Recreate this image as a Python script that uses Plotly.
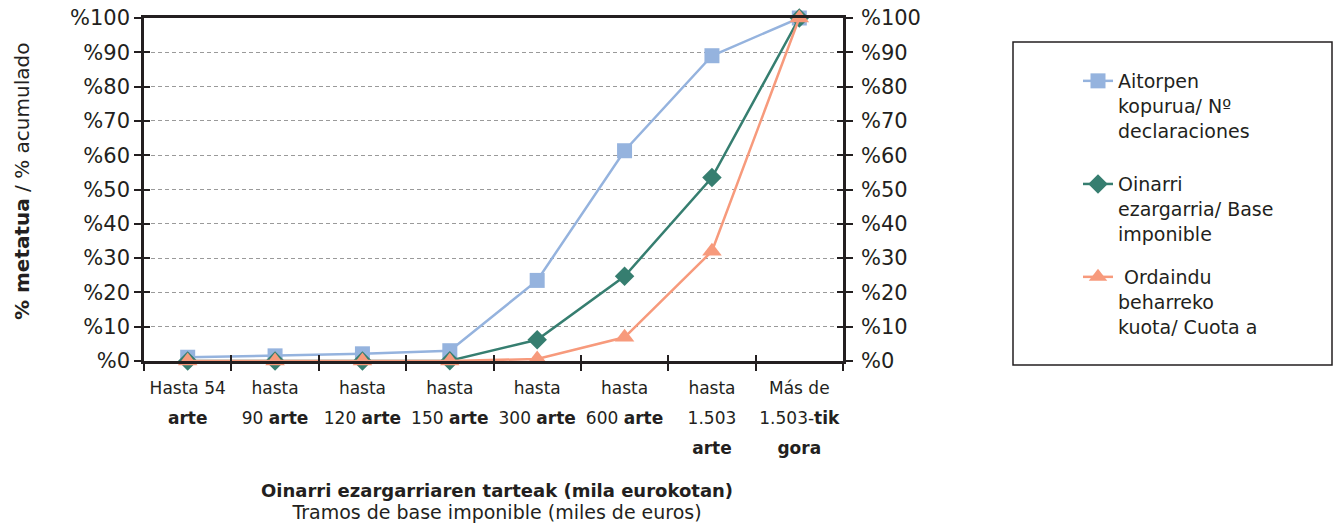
import plotly.graph_objects as go

categories = [
    "Hasta 54<br><b>arte</b>",
    "hasta<br>90 <b>arte</b>",
    "hasta<br>120 <b>arte</b>",
    "hasta<br>150 <b>arte</b>",
    "hasta<br>300 <b>arte</b>",
    "hasta<br>600 <b>arte</b>",
    "hasta<br>1.503<br><b>arte</b>",
    "Más de<br>1.503-<b>tik</b><br><b>gora</b>",
]
aitorpen = [1.1, 1.5, 2.1, 3.0, 23.5, 61.3, 89.0, 100.0]
oinarri = [0.0, 0.0, 0.0, 0.1, 6.2, 24.7, 53.5, 100.0]
kuota = [0.0, 0.0, 0.0, 0.0, 0.6, 6.9, 32.0, 100.0]

series_names = [
    "Aitorpen<br>kopurua/ Nº<br>declaraciones",
    "Oinarri<br>ezargarria/ Base<br>imponible",
    " Ordaindu<br>beharreko<br>kuota/ Cuota a",
]
y_ticks = [0, 10, 20, 30, 40, 50, 60, 70, 80, 90, 100]
y_ticklabels = ["%" + str(v) for v in y_ticks]

FONT = "DejaVu Sans"
DARK = "#231f20"

# page-pixel plot area: x 144..843, y 18..361
X0, X1, Y0, Y1 = 144, 843, 18, 361
PW, PH = X1 - X0, Y1 - Y0
FW, FH = 1334, 528
def px(x):
    return (x - X0) / PW
def py(y):
    return (Y1 - y) / PH

SP = "<span style='font-size:17px'>"
cat_labels = [SP + c.replace("<br>", "</span><br>" + SP) + "</span>" for c in categories]

fig = go.Figure()
styles = [
    dict(color="#95b3de", symbol="square", size=15),
    dict(color="#367e70", symbol="diamond", size=15),
    dict(color="#f79a7c", symbol="triangle-up", size=17),
]
legends = ["legend", "legend", "legend2"]
for name, vals, st, lg in zip(series_names, [aitorpen, oinarri, kuota], styles, legends):
    fig.add_trace(go.Scatter(
        x=cat_labels, y=vals, name=name, mode="lines+markers",
        line=dict(color=st["color"], width=2.5),
        marker=dict(color=st["color"], symbol=st["symbol"], size=st["size"]),
        cliponaxis=False, legendgroup=name, legend=lg,
    ))
# invisible helper traces for the extra axes (right labels, crossing ticks)
for xa, ya in [("x", "y2"), ("x", "y3"), ("x", "y4"), ("x2", "y")]:
    fig.add_trace(go.Scatter(x=[cat_labels[0]], y=[0], xaxis=xa, yaxis=ya, showlegend=False,
                             mode="markers", marker=dict(opacity=0), hoverinfo="skip"))

tick_common = dict(tickcolor=DARK, tickwidth=2)
fig.update_layout(
    width=FW, height=FH,
    margin=dict(l=X0, r=FW - X1, t=Y0, b=FH - Y1, autoexpand=False),
    plot_bgcolor="white", paper_bgcolor="white",
    font=dict(family=FONT, color=DARK, size=19),
    xaxis=dict(
        type="category", range=[-0.5, 7.5], tickson="boundaries",
        ticks="outside", ticklen=7, **tick_common,
        showline=True, linecolor=DARK, linewidth=2.5, mirror=True,
        showgrid=False, tickfont=dict(size=23, family=FONT, color=DARK),
        tickangle=0, automargin=False, ticklabelstandoff=3,
    ),
    xaxis2=dict(
        type="category", range=[-0.5, 7.5], tickson="boundaries", overlaying="x",
        ticks="inside", ticklen=6, **tick_common, showticklabels=False,
        showline=False, showgrid=False, automargin=False,
        categoryorder="array", categoryarray=cat_labels,
    ),
    yaxis=dict(
        range=[0, 100], tickvals=y_ticks, ticktext=y_ticklabels,
        ticks="outside", ticklen=7, **tick_common,
        showline=True, linecolor=DARK, linewidth=2.5,
        showgrid=True, gridcolor="#9a9a9a", griddash="4px,3px", gridwidth=1.2,
        zeroline=False, tickfont=dict(size=21), automargin=False,
        ticklabeloverflow="allow",
    ),
    yaxis2=dict(
        range=[0, 100], tickvals=y_ticks, ticktext=y_ticklabels,
        overlaying="y", side="right",
        ticks="outside", ticklen=7, **tick_common,
        showline=True, linecolor=DARK, linewidth=2.5,
        showgrid=False, zeroline=False, tickfont=dict(size=21), automargin=False,
        ticklabeloverflow="allow", ticklabelstandoff=4,
    ),
    yaxis3=dict(
        range=[0, 100], tickvals=y_ticks, overlaying="y", side="left",
        ticks="inside", ticklen=6, **tick_common, showticklabels=False,
        showline=False, showgrid=False, zeroline=False, automargin=False,
    ),
    yaxis4=dict(
        range=[0, 100], tickvals=y_ticks, overlaying="y", side="right",
        ticks="inside", ticklen=6, **tick_common, showticklabels=False,
        showline=False, showgrid=False, zeroline=False, automargin=False,
    ),
    legend=dict(
        x=px(1118 - 40), y=py(62), xanchor="left", yanchor="top",
        font=dict(size=19, family=FONT, color=DARK),
        tracegroupgap=26, valign="top", bgcolor="rgba(0,0,0,0)",
    ),
    legend2=dict(
        x=px(1118 - 40), y=py(62 + 196), xanchor="left", yanchor="top",
        font=dict(size=19, family=FONT, color=DARK),
        valign="top", bgcolor="rgba(0,0,0,0)",
    ),
    showlegend=True,
)

fig.add_shape(type="rect", xref="paper", yref="paper",
              x0=px(1013), x1=px(1332), y0=py(365), y1=py(42),
              line=dict(color=DARK, width=1.5), fillcolor="rgba(0,0,0,0)")

fig.add_annotation(
    text=("<b><span style='font-size:18px'>Oinarri ezargarriaren tarteak (mila eurokotan)</span></b>"
          "<br><span style='font-size:19px'>Tramos de base imponible (miles de euros)</span>"),
    xref="paper", yref="paper", x=px(497), y=py(478), xanchor="center", yanchor="top",
    showarrow=False, font=dict(size=17, family=FONT, color=DARK), align="center",
)
fig.add_annotation(
    text="<b>% metatua</b> / % acumulado",
    xref="paper", yref="paper", x=px(22), y=py(182),
    xanchor="center", yanchor="middle", textangle=-90,
    showarrow=False, font=dict(size=20, family=FONT, color=DARK),
)

fig.write_html("out.html",
               config={"displayModeBar": False},
               post_script="document.body.style.margin='0';document.body.style.overflow='hidden';")
